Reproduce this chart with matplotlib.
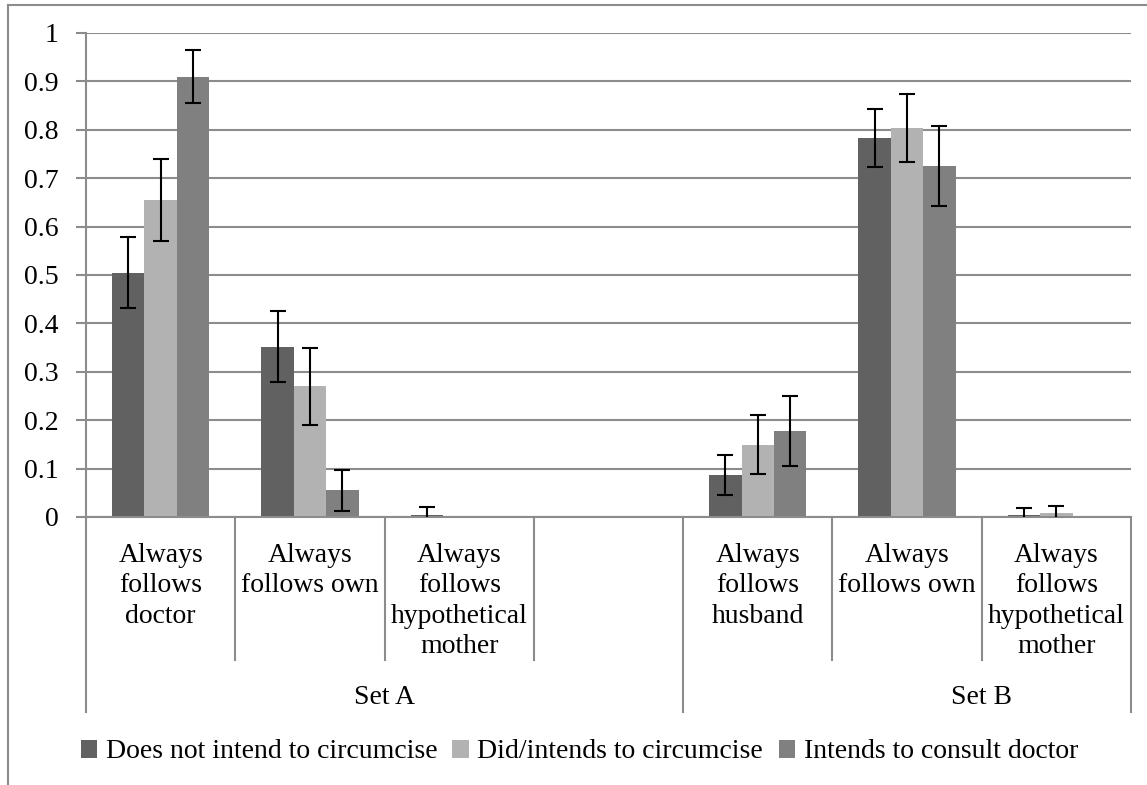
import numpy as np
import matplotlib
matplotlib.use("Agg")
import matplotlib.pyplot as plt
from matplotlib.lines import Line2D
from matplotlib.transforms import blended_transform_factory

plt.rcParams['font.family'] = ['Liberation Serif', 'DejaVu Serif']

# Categories (slot 3 is an empty spacer between the two sets)
categories = ["Always\nfollows\ndoctor", "Always\nfollows own",
              "Always\nfollows\nhypothetical\nmother", "",
              "Always\nfollows\nhusband", "Always\nfollows own",
              "Always\nfollows\nhypothetical\nmother"]
set_names = ["Set A", "Set B"]
series_names = ["Does not intend to circumcise", "Did/intends to circumcise",
                "Intends to consult doctor"]

not_intend = [0.505, 0.352, 0.005, np.nan, 0.087, 0.783, 0.004]
not_intend_err = [0.073, 0.073, 0.015, np.nan, 0.041, 0.060, 0.014]
did_intend = [0.655, 0.270, 0.0, np.nan, 0.149, 0.803, 0.009]
did_intend_err = [0.085, 0.080, np.nan, np.nan, 0.061, 0.070, 0.014]
consult = [0.910, 0.055, 0.0, np.nan, 0.178, 0.725, 0.0]
consult_err = [0.054, 0.043, np.nan, np.nan, 0.072, 0.082, np.nan]

colors = ["#616161", "#b2b2b2", "#808080"]
grid_c = "#8c8c8c"
fs = 20

fig = plt.figure(figsize=(11.47, 7.85), dpi=100)
ax = fig.add_axes([86 / 1147, 1 - 517 / 785, 1045 / 1147, 484 / 785])

x = np.arange(len(categories))
w = 0.217
series = [(not_intend, not_intend_err), (did_intend, did_intend_err), (consult, consult_err)]
for k, (vals, errs) in enumerate(series):
    pos = x + (k - 1) * w
    ax.bar(pos, vals, width=w, color=colors[k], label=series_names[k], zorder=2)
    ax.errorbar(pos, vals, yerr=errs, fmt="none", ecolor="black",
                elinewidth=1.5, capsize=5.5, capthick=1.5, zorder=3)

ax.set_xlim(-0.5, len(categories) - 0.5)
ax.set_ylim(0, 1)
ax.set_yticks(np.arange(0, 1.01, 0.1))
ax.set_yticklabels(["0"] + ["%.1f" % v for v in np.arange(0.1, 0.95, 0.1)] + ["1"])
ax.yaxis.grid(True, color=grid_c, linewidth=1.5, zorder=0)
ax.set_axisbelow(True)
ax.tick_params(axis="y", length=7.5, width=1.5, color=grid_c, pad=12, labelsize=fs)
ax.set_xticks([])
for s in ["top", "right"]:
    ax.spines[s].set_visible(False)
ax.spines["left"].set_color(grid_c)
ax.spines["left"].set_linewidth(1.5)
ax.spines["bottom"].set_color(grid_c)
ax.spines["bottom"].set_linewidth(1.5)

# Two-level category axis below the plot
tr = blended_transform_factory(ax.transData, ax.transAxes)
short_y = -(660 - 517) / 484
long_y = -(712 - 517) / 484
for b in [0.5, 1.5, 2.5, 4.5, 5.5]:
    ax.add_line(Line2D([b, b], [0, short_y], transform=tr, color=grid_c,
                       linewidth=1.5, clip_on=False))
for b in [-0.5, 3.5, 6.5]:
    ax.add_line(Line2D([b, b], [0, long_y], transform=tr, color=grid_c,
                       linewidth=1.5, clip_on=False))
for i, lab in enumerate(categories):
    ax.text(i, -(543 - 517) / 484, lab, transform=tr, ha="center", va="top",
            fontsize=fs, linespacing=1.28)
for j, name in enumerate(set_names):
    ax.text(1.5 + 4 * j, -(697 - 517) / 484, name, transform=tr,
            ha="center", va="center", fontsize=fs)

fig.legend(loc="center", bbox_to_anchor=(0.505, 1 - 752 / 785), ncol=3,
           frameon=False, fontsize=fs, handlelength=0.6, handleheight=0.6,
           handletextpad=0.3, columnspacing=0.55)

# Chart frame
fig.add_artist(Line2D([8 / 1147, 1.0], [1 - 5 / 785] * 2, color=grid_c,
                      linewidth=1.5, transform=fig.transFigure))
fig.add_artist(Line2D([8 / 1147] * 2, [0, 1 - 5 / 785], color=grid_c,
                      linewidth=1.5, transform=fig.transFigure))

fig.savefig("out.png", dpi=100)
